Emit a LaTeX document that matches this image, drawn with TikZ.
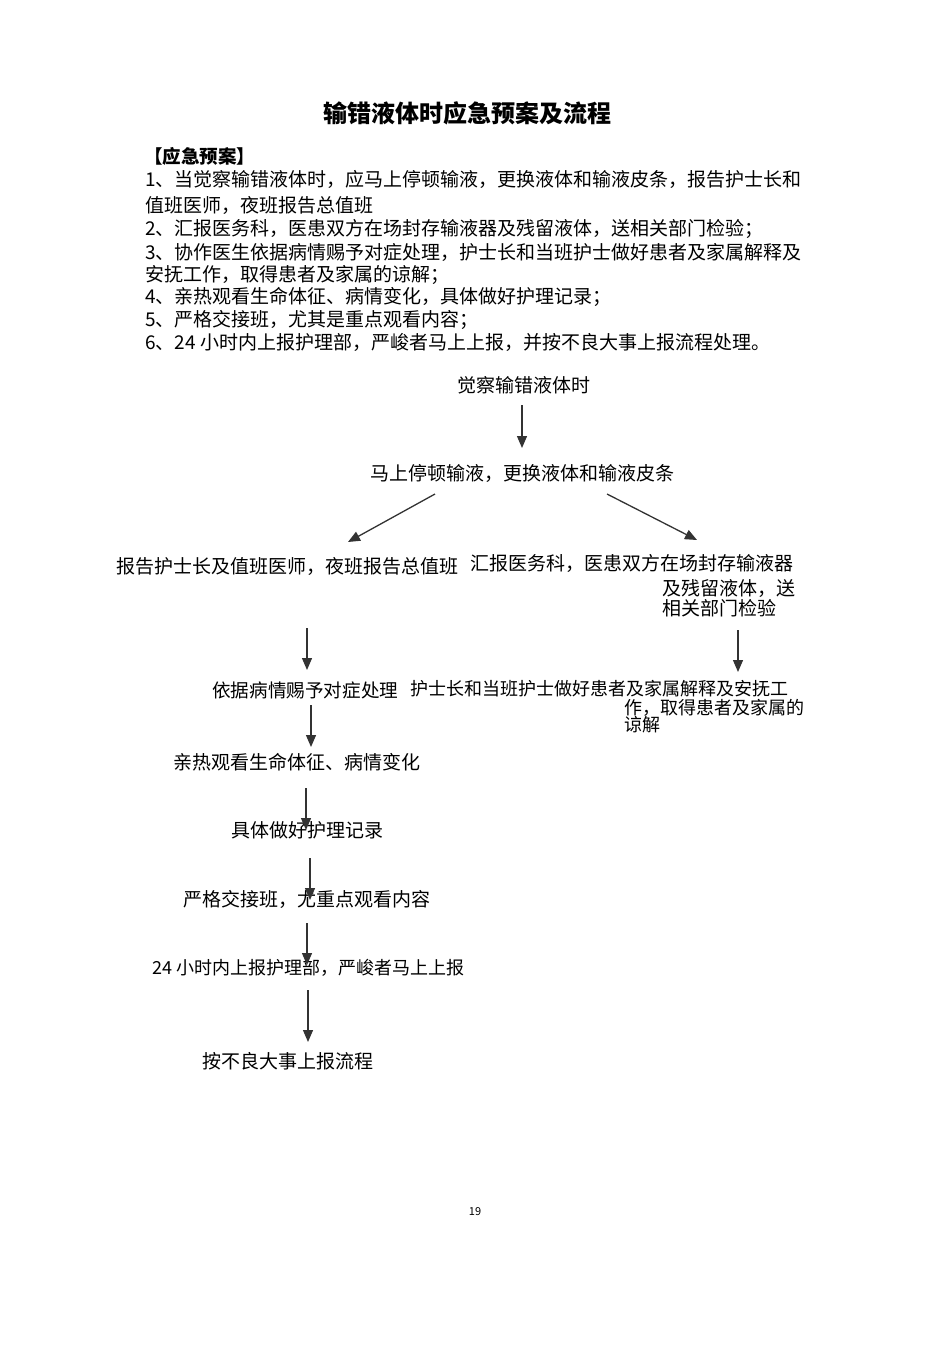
\documentclass[tikz,border=0pt]{standalone}
\usepackage{fontspec}
\setmainfont{Noto Sans CJK SC}
\usetikzlibrary{arrows.meta}
\tikzset{
  txt/.style={inner sep=0pt, anchor=west, font=\fontsize{19}{22}\selectfont},
  txts/.style={inner sep=0pt, anchor=west, font=\fontsize{18}{20}\selectfont},
  arr/.style={line width=1.3pt, draw=black!80, -{Triangle[length=12pt,width=10pt]}},
}
\begin{document}
\begin{tikzpicture}[x=1pt,y=-1pt]
\useasboundingbox (0,0) rectangle (950,1345);
% title
\node[inner sep=0pt, font=\fontsize{24}{28}\selectfont\bfseries] (title) at (467,113) {输错液体时应急预案及流程};
\node[inner sep=0pt, anchor=west, font=\fontsize{18.5}{22}\selectfont\bfseries] (head) at (144,156) {【应急预案】};
\node[txt] (p1) at (145,179) {1、当觉察输错液体时，应马上停顿输液，更换液体和输液皮条，报告护士长和};
\node[txt] (p1b) at (145,205) {值班医师，夜班报告总值班};
\node[txt] (p2) at (145,229) {2、汇报医务科，医患双方在场封存输液器及残留液体，送相关部门检验；};
\node[txt] (p3) at (145,252) {3、协作医生依据病情赐予对症处理，护士长和当班护士做好患者及家属解释及};
\node[txt] (p3b) at (145,275) {安抚工作，取得患者及家属的谅解；};
\node[txt] (p4) at (145,297) {4、亲热观看生命体征、病情变化，具体做好护理记录；};
\node[txt] (p5) at (145,320) {5、严格交接班，尤其是重点观看内容；};
\node[txt] (p6) at (145,342) {6、24 小时内上报护理部，严峻者马上上报，并按不良大事上报流程处理。};
% flowchart
\node[txt] (f1) at (457,385) {觉察输错液体时};
\node[txt] (f2) at (370,473) {马上停顿输液，更换液体和输液皮条};
\node[txt] (fl1) at (116,566) {报告护士长及值班医师，夜班报告总值班};
\node[txt] (fr1) at (470,563) {汇报医务科，医患双方在场封存输液器};
\node[txt] (fr1b) at (662,588) {及残留液体，送};
\node[txt] (fr1c) at (662,608) {相关部门检验};
\node[inner sep=0pt, anchor=west, font=\fontsize{18.6}{22}\selectfont] (fl2) at (212,690) {依据病情赐予对症处理};
\node[txts] (fr2) at (410,689) {护士长和当班护士做好患者及家属解释及安抚工};
\node[txts] (fr2b) at (624,708) {作，取得患者及家属的};
\node[txts] (fr2c) at (624,725) {谅解};
\node[txt] (f3) at (173,762) {亲热观看生命体征、病情变化};
\node[txt] (f4) at (231,830) {具体做好护理记录};
\node[txt] (f5) at (183,899) {严格交接班，尤重点观看内容};
\node[txts] (f6) at (152,968) {24 小时内上报护理部，严峻者马上上报};
\node[txt] (f7) at (202,1061) {按不良大事上报流程};
\node[inner sep=0pt, font=\fontsize{11}{13}\selectfont] (pg) at (475,1212) {19};
% arrow end points
\coordinate (a1s) at (522,405); \coordinate (a1e) at (522,448);
\coordinate (a2s) at (435,494); \coordinate (a2e) at (348,542);
\coordinate (a3s) at (607,494); \coordinate (a3e) at (697,540);
\coordinate (a4s) at (307,628); \coordinate (a4e) at (307,670);
\coordinate (a5s) at (738,630); \coordinate (a5e) at (738,672);
\coordinate (a6s) at (311,705); \coordinate (a6e) at (311,747);
\coordinate (a7s) at (306,788); \coordinate (a7e) at (306,830);
\coordinate (a8s) at (310,858); \coordinate (a8e) at (310,900);
\coordinate (a9s) at (307,923); \coordinate (a9e) at (307,965);
\coordinate (a10s) at (308,990); \coordinate (a10e) at (308,1042);
\draw[arr] (a1s) -- (a1e);
\draw[arr] (a2s) -- (a2e);
\draw[arr] (a3s) -- (a3e);
\draw[arr] (a4s) -- (a4e);
\draw[arr] (a5s) -- (a5e);
\draw[arr] (a6s) -- (a6e);
\draw[arr] (a7s) -- (a7e);
\draw[arr] (a8s) -- (a8e);
\draw[arr] (a9s) -- (a9e);
\draw[arr] (a10s) -- (a10e);
\end{tikzpicture}
\end{document}
